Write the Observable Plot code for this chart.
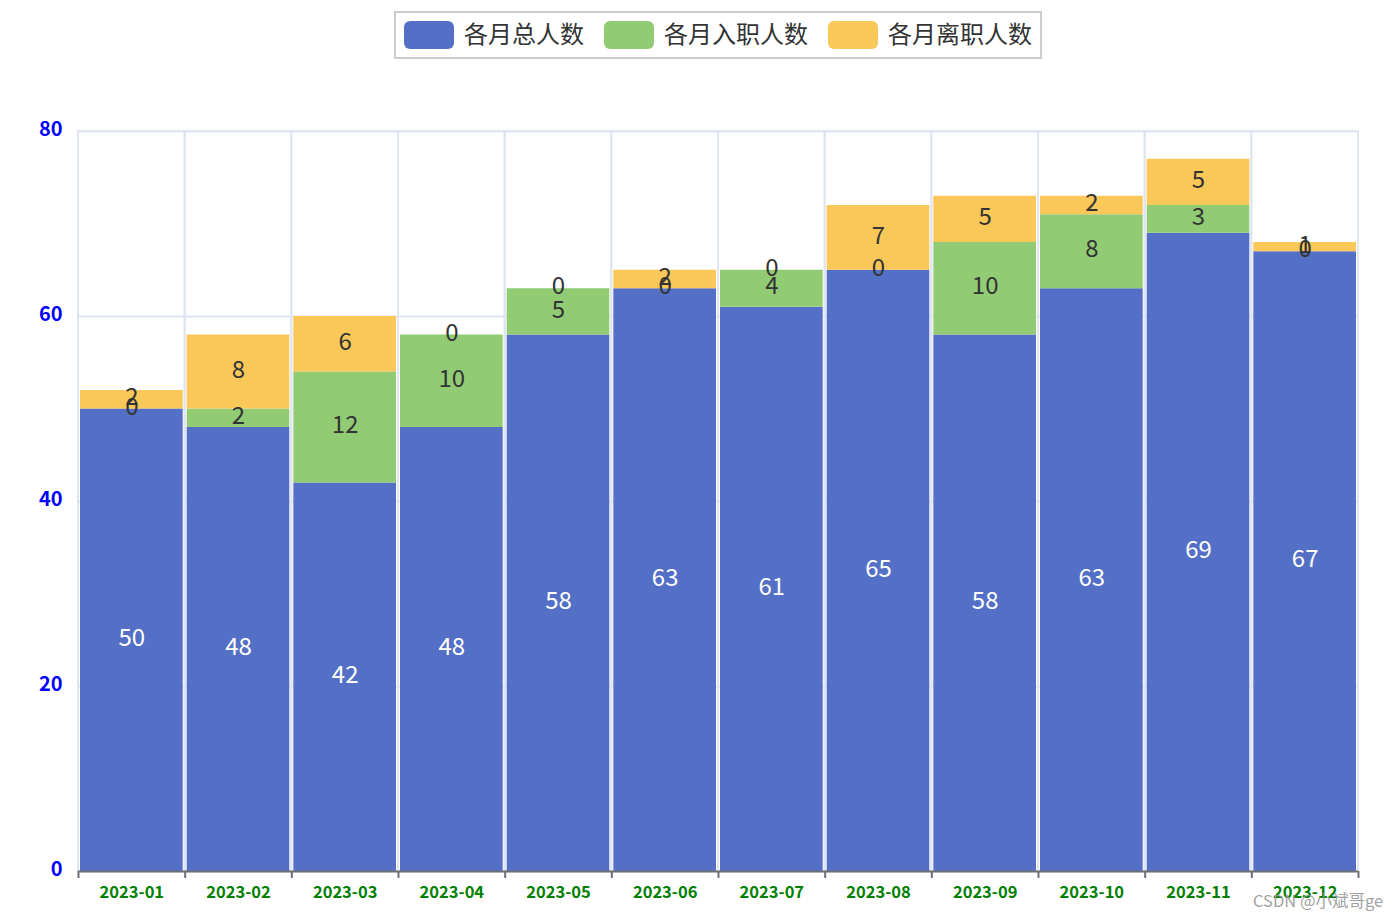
<!DOCTYPE html>
<html>
<head>
<meta charset="utf-8">
<script src="https://cdn.jsdelivr.net/npm/d3@7"></script>
<script src="https://cdn.jsdelivr.net/npm/@observablehq/plot@0.6"></script>
<style>
  html, body { margin: 0; padding: 0; background: #fff; }
  #wrap { position: relative; width: 1400px; height: 920px; font-family: "Noto Sans CJK SC", "Noto Sans", sans-serif; }
  #legend { height: 70px; position: relative; }
  #legend .box { position: absolute; left: 394px; top: 11px; height: 44px; border: 2px solid #ccc; display: flex; align-items: center; padding: 0 8px 0 8px; box-sizing: content-box; }
  #legend .item { display: flex; align-items: center; margin-right: 20px; }
  #legend .item:last-child { margin-right: 0; }
  #legend .sw { width: 50px; height: 28px; border-radius: 6px; margin-right: 10px; }
  #legend .lab { font-size: 24px; color: #333; line-height: 28px; position: relative; top: -2px; }
  #wm { position: absolute; left: 1253px; top: 888px; font-size: 16.5px; color: #999; font-family: "Noto Sans CJK SC", sans-serif; opacity: 0.9; }
</style>
</head>
<body>
<div id="wrap">
  <div id="legend"></div>
  <div id="chart"></div>
  <div id="wm">CSDN @小斌哥ge</div>
</div>
<script>
const months = ["2023-01","2023-02","2023-03","2023-04","2023-05","2023-06","2023-07","2023-08","2023-09","2023-10","2023-11","2023-12"];
const seriesNames = ["各月总人数","各月入职人数","各月离职人数"];
const seriesColors = ["#5470c6","#91cc75","#fac858"];
const totalCount = [50,48,42,48,58,63,61,65,58,63,69,67];
const joinCount  = [0,2,12,10,5,0,4,0,10,8,3,0];
const leaveCount = [2,8,6,0,0,2,0,7,5,2,5,1];
const yTicks = [0,20,40,60,80];

const seriesValues = [totalCount, joinCount, leaveCount];
const data = [];
months.forEach((m, i) => {
  seriesNames.forEach((s, j) => {
    data.push({month: m, series: s, value: seriesValues[j][i], order: j});
  });
});

// legend
const lg = document.createElement("div");
lg.className = "box";
seriesNames.forEach((s, j) => {
  const it = document.createElement("div");
  it.className = "item";
  it.innerHTML = `<div class="sw" style="background:${seriesColors[j]}"></div><div class="lab">${s}</div>`;
  lg.appendChild(it);
});
document.getElementById("legend").appendChild(lg);

const W = 1400, H = 850;
const mL = 78, mR = 42, mT = 61, mB = 49;
const bw = (W - mL - mR) / months.length;

const chart = Plot.plot({
  width: W,
  height: H,
  marginLeft: mL,
  marginRight: mR,
  marginTop: mT,
  marginBottom: mB,
  style: {fontFamily: "'Noto Sans CJK SC', 'Noto Sans', sans-serif", background: "#fff", overflow: "visible"},
  x: {domain: months, padding: 0, round: false, label: null},
  y: {domain: [0, 80], label: null},
  color: {domain: seriesNames, range: seriesColors},
  marks: [
    Plot.ruleY(yTicks, {stroke: "#e0e6f1", strokeWidth: 2}),
    Plot.barY(months, {x: d => d, y: 80, fill: "none", stroke: "#e0e6f1", strokeWidth: 2}),
    Plot.barY(data, Plot.stackY({x: "month", y: "value", fill: "series", order: seriesNames, insetLeft: 2, insetRight: 2})),
    Plot.text(data, Plot.stackY({
      x: "month", y: "value", z: "series", order: seriesNames, text: d => String(d.value),
      fill: d => d.order === 0 ? "#ffffff" : "#333333",
      fontSize: 24, dy: -2
    })),
    Plot.ruleY([0], {stroke: "#6e7079", strokeWidth: 2}),
    Plot.axisX({ticks: months, tickSize: 7, tickFormat: () => "", dx: -bw / 2, stroke: "#6e7079", strokeWidth: 2}),
    Plot.axisX({ticks: [months[months.length - 1]], tickSize: 7, tickFormat: () => "", dx: bw / 2, stroke: "#6e7079", strokeWidth: 2}),
    Plot.axisX({ticks: months, tickSize: 0, tickPadding: 15, fill: "#008000", fontWeight: "bold", fontSize: 16.5}),
    Plot.axisY({ticks: yTicks, tickSize: 0, tickPadding: 16, fill: "#0000ff", fontWeight: "bold", fontSize: 20, dy: -2})
  ]
});
document.getElementById("chart").appendChild(chart);
</script>
</body>
</html>
